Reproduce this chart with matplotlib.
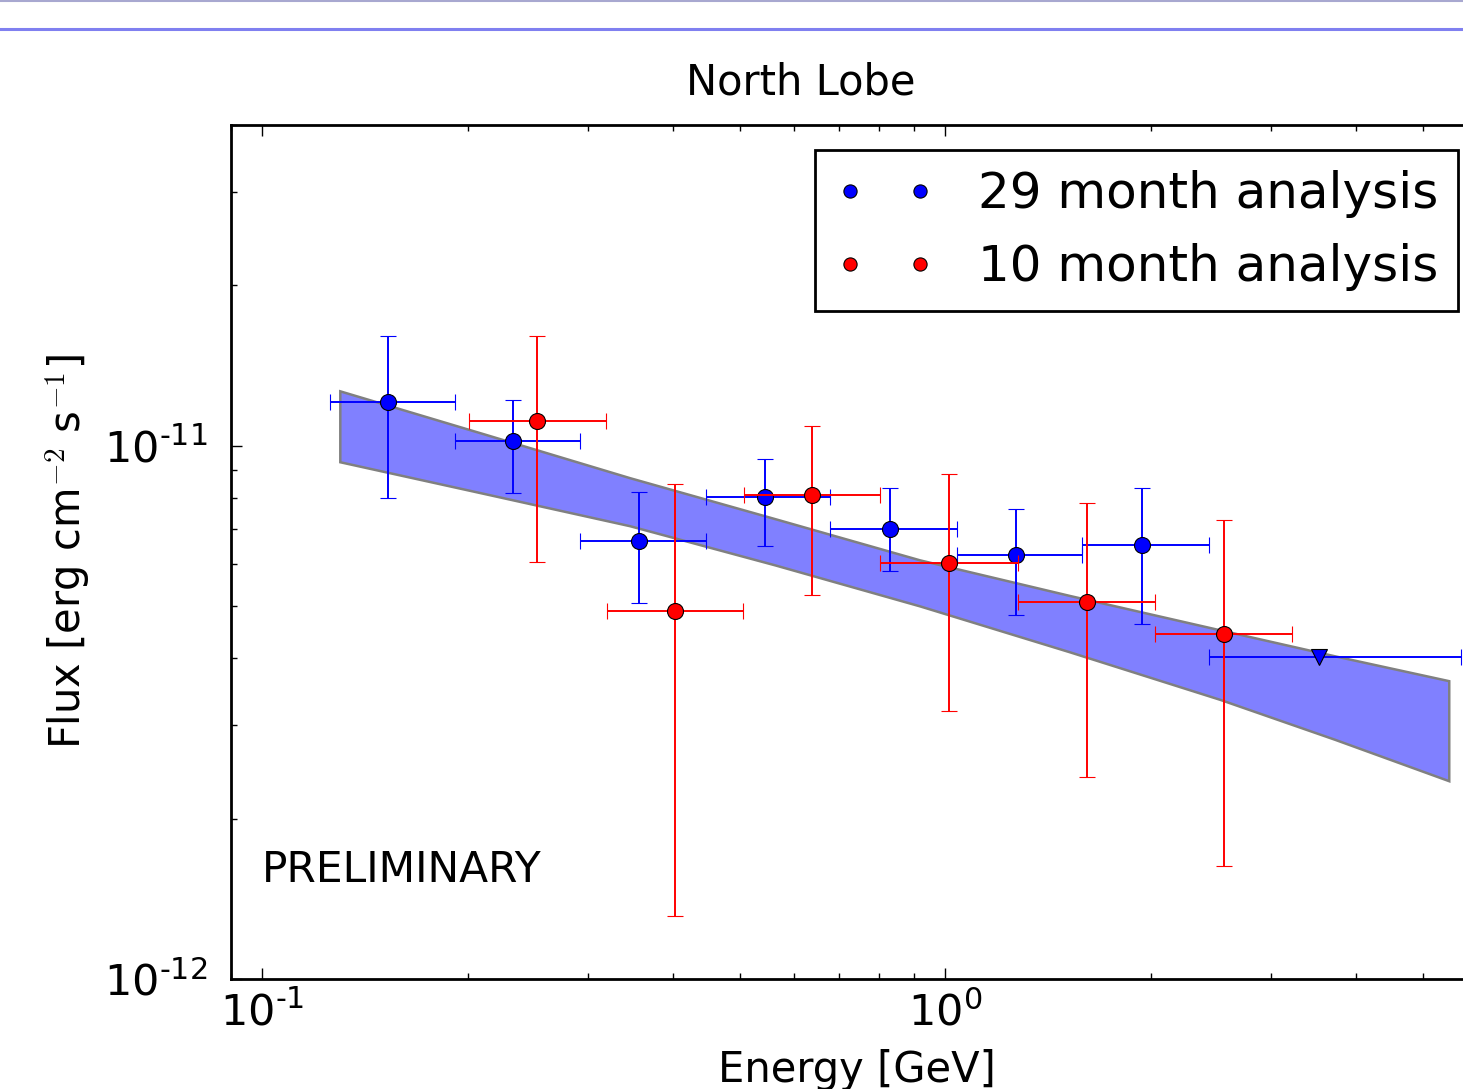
import matplotlib
matplotlib.use("Agg")
import matplotlib.pyplot as plt
from matplotlib.lines import Line2D
from matplotlib.ticker import FuncFormatter
import numpy as np

plt.rcParams['mathtext.fontset'] = 'cm'

# 29 month analysis (blue)
e29 = [0.153, 0.233, 0.356, 0.545, 0.831, 1.27, 1.94]
e29_lo = [0.1257, 0.1916, 0.292, 0.446, 0.679, 1.04, 1.587]
e29_hi = [0.1916, 0.292, 0.446, 0.679, 1.04, 1.587, 2.43]
f29 = [1.21e-11, 1.02e-11, 6.63e-12, 8.01e-12, 6.98e-12, 6.24e-12, 6.51e-12]
f29_lo = [7.98e-12, 8.15e-12, 5.07e-12, 6.49e-12, 5.83e-12, 4.82e-12, 4.64e-12]
f29_hi = [1.61e-11, 1.218e-11, 8.19e-12, 9.47e-12, 8.34e-12, 7.62e-12, 8.34e-12]

# 29 month upper limit
ul_e = [3.53]
ul_e_lo = [2.43]
ul_e_hi = [5.69]
ul_f = [4.02e-12]

# 10 month analysis (red)
e10 = [0.2527, 0.4025, 0.639, 1.014, 1.614, 2.56]
e10_lo = [0.2009, 0.3196, 0.508, 0.803, 1.279, 2.03]
e10_hi = [0.319, 0.506, 0.803, 1.279, 2.03, 3.22]
f10 = [1.112e-11, 4.90e-12, 8.08e-12, 6.03e-12, 5.09e-12, 4.44e-12]
f10_lo = [6.06e-12, 1.31e-12, 5.25e-12, 3.18e-12, 2.39e-12, 1.63e-12]
f10_hi = [1.61e-11, 8.48e-12, 1.089e-11, 8.85e-12, 7.81e-12, 7.26e-12]

# butterfly band of the power-law fit
band_e = [0.1301, 0.2121, 0.3457, 0.5638, 0.9192, 1.524, 2.527, 3.724, 5.470]
band_hi = [1.266e-11, 1.050e-11, 8.70e-12, 7.29e-12, 6.10e-12, 5.23e-12, 4.51e-12, 4.03e-12, 3.62e-12]
band_lo = [9.32e-12, 8.12e-12, 7.07e-12, 5.97e-12, 5.00e-12, 4.10e-12, 3.34e-12, 2.81e-12, 2.35e-12]


def errs(v, lo, hi):
    v, lo, hi = np.array(v), np.array(lo), np.array(hi)
    return [v - lo, hi - v]


def pow10(val, pos):
    p = int(round(np.log10(val)))
    if p < 0:
        return r'$\mathdefault{10^{%s%d}}$' % ('\u2010', -p)
    return r'$\mathdefault{10^{%d}}$' % p


fig = plt.figure(figsize=(14.63, 10.89), dpi=100)
ax = fig.add_axes([0.1579, 0.1010, 0.8558, 0.7842])

# slide decoration lines at the top
fig.add_artist(Line2D([0, 1], [1 - 0.5 / 1089, 1 - 0.5 / 1089], color='#a8a8d0', lw=1.5))
fig.add_artist(Line2D([0, 1], [1 - 28.5 / 1089, 1 - 28.5 / 1089], color='#8080f0', lw=2.2))

ax.fill(np.concatenate([band_e, band_e[::-1]]), np.concatenate([band_hi, band_lo[::-1]]),
        facecolor='#8080ff', edgecolor='gray', linewidth=1.8, zorder=1)

eb = dict(mec='black', mew=0.8, ms=11.5, elinewidth=1.4, capsize=6, capthick=1.4)
ax.errorbar(e29, f29, xerr=errs(e29, e29_lo, e29_hi), yerr=errs(f29, f29_lo, f29_hi),
            fmt='o', color='blue', mfc='blue', zorder=3, **eb)
ax.errorbar(ul_e, ul_f, xerr=errs(ul_e, ul_e_lo, ul_e_hi),
            fmt='v', color='blue', mfc='blue', zorder=3, **eb)
ax.errorbar(e10, f10, xerr=errs(e10, e10_lo, e10_hi), yerr=errs(f10, f10_lo, f10_hi),
            fmt='o', color='red', mfc='red', zorder=4, **eb)

ax.set_xscale('log')
ax.set_yscale('log')
ax.set_xlim(0.09, 6.13)
ax.set_ylim(1e-12, 4e-11)
ax.xaxis.set_major_formatter(FuncFormatter(pow10))
ax.yaxis.set_major_formatter(FuncFormatter(pow10))

ax.tick_params(which='both', direction='in', top=True, right=True, labelsize=31)
ax.tick_params(which='major', length=8, width=1)
ax.tick_params(which='minor', length=4, width=1)
ax.tick_params(axis='y', pad=17)
ax.tick_params(axis='x', pad=9)
for s in ax.spines.values():
    s.set_linewidth(2)

ax.set_xlabel('Energy [GeV]', fontsize=30, labelpad=11)
ax.set_ylabel(r'Flux [erg cm$^{-2}$ s$^{-1}$]', fontsize=30, labelpad=8)
ax.set_title('North Lobe', fontsize=30, pad=22, x=0.4553)

ax.text(0.1, 1.6e-12, 'PRELIMINARY', fontsize=30.5, ha='left', va='center')

handles = [
    Line2D([], [], ls='none', marker='o', mfc='blue', mec='black', mew=0.8, ms=9.5),
    Line2D([], [], ls='none', marker='o', mfc='red', mec='black', mew=0.8, ms=9.5),
]
leg = ax.legend(handles, ['29 month analysis', '10 month analysis'], loc='upper right',
                numpoints=2, fontsize=36, fancybox=False, framealpha=1,
                edgecolor='black', borderaxespad=0.5, handlelength=2.0,
                handletextpad=0.86)
leg.get_frame().set_linewidth(2)

fig.savefig('out.png', dpi=100)
